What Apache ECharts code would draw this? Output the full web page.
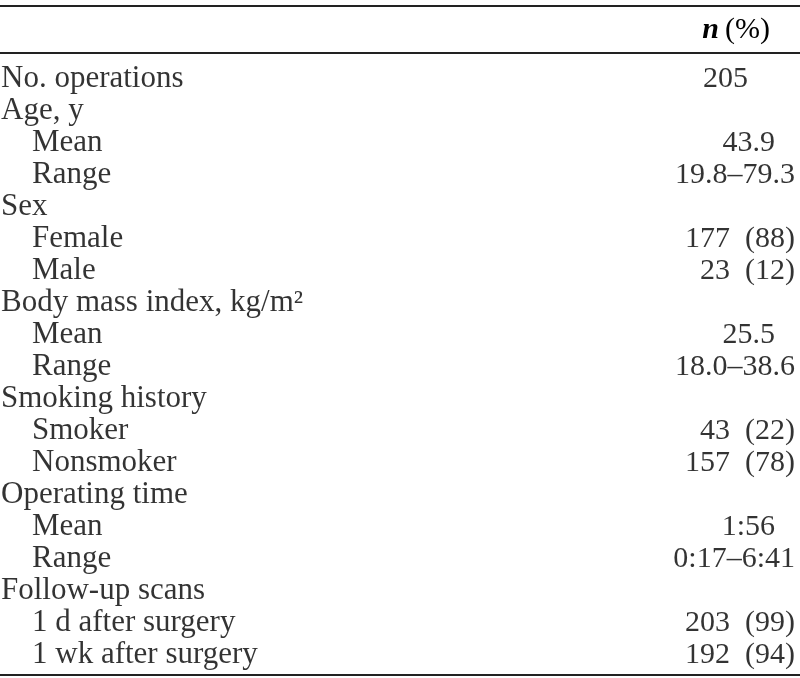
<!DOCTYPE html>
<html><head><meta charset="utf-8">
<script src="https://cdn.jsdelivr.net/npm/echarts@6/dist/echarts.min.js"></script>
<style>html,body{margin:0;padding:0;background:#fff}#c{width:800px;height:678px}</style>
</head><body><div id="c"></div>
<script>
// Table rows (label, indent level, value text)
const rowLabels = ["No. operations","Age, y","Mean","Range","Sex","Female","Male","Body mass index, kg/m²","Mean","Range","Smoking history","Smoker","Nonsmoker","Operating time","Mean","Range","Follow-up scans","1 d after surgery","1 wk after surgery"];
const rowLevels = [0,0,1,1,0,1,1,0,1,1,0,1,1,0,1,1,0,1,1];
const rowValues = ["205","","43.9","19.8–79.3","","177 (88)","23 (12)","","25.5","18.0–38.6","","43 (22)","157 (78)","","1:56","0:17–6:41","","203 (99)","192 (94)"];
const headerText = "(%)";

const chart = echarts.init(document.getElementById('c'));
const labelFont = '"Liberation Serif", "DejaVu Serif", serif';
const valueFont = '"Liberation Serif", "DejaVu Serif", serif';
const cats = rowLabels.map((_, i) => 'r' + i);
function valOffset(v){
  if (v.indexOf('(') >= 0 || v.indexOf('–') >= 0) return 0;
  if (v.indexOf('.') >= 0 || v.indexOf(':') >= 0) return -20;
  return -47;
}
chart.setOption({
  animation: false,
  grid: {left: 0, right: 0, top: 63, height: 608},
  xAxis: {type: 'value', min: 0, max: 800, show: false},
  yAxis: {type: 'category', data: cats, inverse: true, show: false},
  series: [
    {
      type: 'scatter', symbolSize: 0, silent: true,
      data: rowLabels.map((t, i) => ({value: [rowLevels[i] ? 32 : 1, cats[i]], name: t})),
      label: {show: true, position: 'right', distance: 0, formatter: p => p.name,
        fontFamily: labelFont, fontSize: 31, color: '#000'}
    },
    {
      type: 'scatter', symbolSize: 0, silent: true,
      data: rowValues.map((t, i) => ({value: [795, cats[i]], name: t, label: {offset: [valOffset(t), 0]}})).filter(d => d.name),
      label: {show: true, position: 'left', distance: 0, formatter: p => p.name.replace(/ /g, '\u2002'),
        fontFamily: valueFont, fontSize: 30, color: '#000'}
    }
  ],
  graphic: [
    {type: 'line', shape: {x1: 0, y1: 6, x2: 800, y2: 6}, style: {stroke: '#222', lineWidth: 2}},
    {type: 'line', shape: {x1: 0, y1: 53, x2: 800, y2: 53}, style: {stroke: '#222', lineWidth: 2}},
    {type: 'line', shape: {x1: 0, y1: 675, x2: 800, y2: 675}, style: {stroke: '#222', lineWidth: 2}},
    {type: 'text', right: 30, top: 15, style: {
      text: '{n|n}{p|\u2009' + headerText + '}',
      rich: {n: {fontFamily: valueFont, fontSize: 30, fontWeight: 'bold', fontStyle: 'italic', fill: '#000'},
             p: {fontFamily: valueFont, fontSize: 30, fill: '#000'}}}}
  ]
});
</script></body></html>
